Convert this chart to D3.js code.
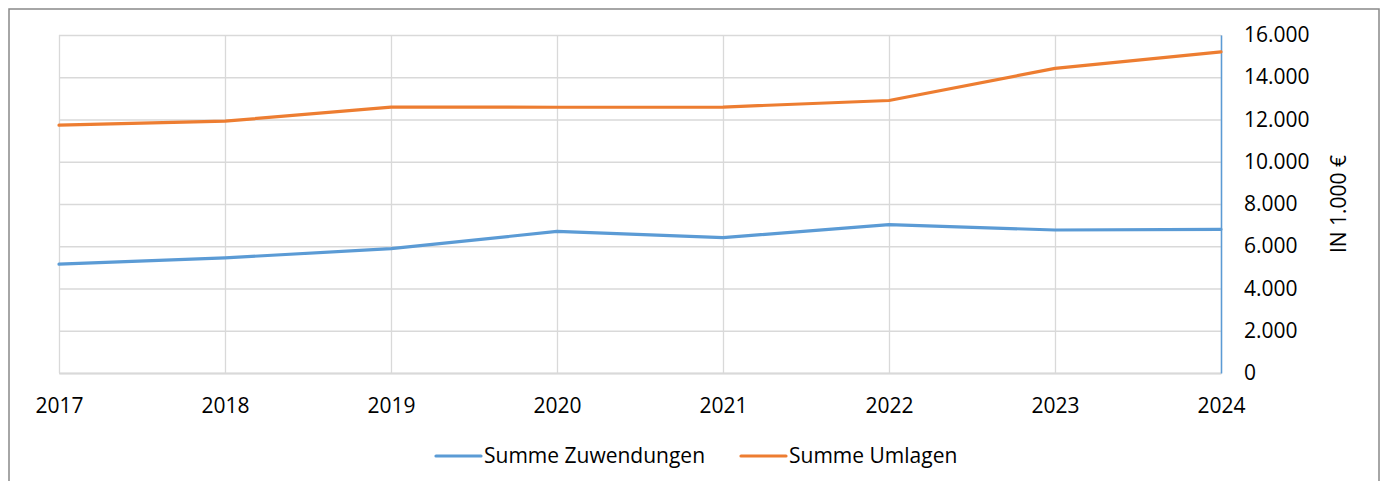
<!DOCTYPE html>
<html>
<head>
<meta charset="utf-8">
<script src="https://cdn.jsdelivr.net/npm/d3@7"></script>
<style>
  body { margin: 0; background: #fff; }
  text { font-family: "Open Sans", "Liberation Sans", sans-serif; fill: #000; }
</style>
</head>
<body>
<div id="chart"></div>
<script>
// data (values in 1.000 €)
var years = ["2017", "2018", "2019", "2020", "2021", "2022", "2023", "2024"];
var zuwendungen = [5150, 5450, 5890, 6700, 6410, 7020, 6770, 6800];
var umlagen = [11730, 11920, 12590, 12580, 12590, 12900, 14420, 15200];
var yTicks = [0, 2000, 4000, 6000, 8000, 10000, 12000, 14000, 16000];
var seriesNames = ["Summe Zuwendungen", "Summe Umlagen"];
var yTitle = "IN 1.000 €";

var svgWidth = 1381;
var svgHeight = 481;

var margin = { top: 35, right: 160, bottom: 108, left: 59 };
var width = svgWidth - margin.left - margin.right;
var height = svgHeight - margin.top - margin.bottom;

var colors = ["#5B9BD5", "#ED7D31"];

var de = d3.formatLocale({ decimal: ",", thousands: ".", grouping: [3], currency: ["", " €"] });
var fmt = de.format(",");

var svg = d3.select("#chart")
  .append("svg")
  .attr("width", svgWidth)
  .attr("height", svgHeight);

// chart frame
svg.append("rect")
  .attr("x", 9)
  .attr("y", 9)
  .attr("width", 1370)
  .attr("height", 500)
  .attr("fill", "none")
  .attr("stroke", "#898989")
  .attr("stroke-width", 1.5);

var chartGroup = svg.append("g")
  .attr("transform", `translate(${margin.left}, ${margin.top})`);

var xScale = d3.scalePoint()
  .domain(years)
  .range([0, width]);

var yScale = d3.scaleLinear()
  .domain([0, 16000])
  .range([height, 0]);

// horizontal gridlines
chartGroup.append("g")
  .call(d3.axisLeft(yScale).tickValues(yTicks).tickSize(-width).tickFormat(""))
  .call(g => g.select(".domain").remove())
  .selectAll("line")
  .attr("stroke", "#d9d9d9")
  .attr("stroke-width", 1.3);

// vertical gridlines at categories
chartGroup.append("g")
  .attr("transform", `translate(0, ${height})`)
  .call(d3.axisBottom(xScale).tickSize(-height).tickFormat(""))
  .call(g => g.select(".domain").remove())
  .selectAll("line")
  .attr("stroke", "#d9d9d9")
  .attr("stroke-width", 1.3);

// x axis
var xAxis = chartGroup.append("g")
  .attr("transform", `translate(0, ${height})`)
  .call(d3.axisBottom(xScale).tickSize(0).tickPadding(33));
xAxis.select(".domain").attr("stroke", "#d9d9d9").attr("stroke-width", 2);
xAxis.selectAll("text")
  .attr("font-size", "21px")
  .attr("dy", "0.32em")
  .attr("fill", "#000");

// right y axis
var yAxis = chartGroup.append("g")
  .attr("transform", `translate(${width}, 0)`)
  .call(d3.axisRight(yScale).tickValues(yTicks).tickSize(0).tickPadding(23).tickFormat(fmt));
yAxis.select(".domain").attr("stroke", "#5B9BD5").attr("stroke-width", 1.5);
yAxis.selectAll("text")
  .attr("font-size", "21px")
  .attr("fill", "#000");

// axis title
chartGroup.append("text")
  .attr("transform", `translate(${width + 118}, ${height / 2}) rotate(-90)`)
  .attr("text-anchor", "middle")
  .attr("dy", "0.35em")
  .attr("font-size", "21px")
  .text(yTitle);

// lines
var line = d3.line()
  .x((d, i) => xScale(years[i]))
  .y(d => yScale(d));

[zuwendungen, umlagen].forEach(function(values, i) {
  chartGroup.append("path")
    .datum(values)
    .attr("d", line)
    .attr("fill", "none")
    .attr("stroke", colors[i])
    .attr("stroke-width", 3.2)
    .attr("stroke-linejoin", "round")
    .attr("stroke-linecap", "round");
});

// legend
var legendX = [436, 741];
var legend = svg.append("g");
seriesNames.forEach(function(name, i) {
  legend.append("line")
    .attr("x1", legendX[i])
    .attr("x2", legendX[i] + 45)
    .attr("y1", 456)
    .attr("y2", 456)
    .attr("stroke", colors[i])
    .attr("stroke-width", 3.2)
    .attr("stroke-linecap", "round");
  legend.append("text")
    .attr("x", legendX[i] + 48)
    .attr("y", 456)
    .attr("dy", "0.35em")
    .attr("font-size", "21px")
    .text(name);
});
</script>
</body>
</html>
